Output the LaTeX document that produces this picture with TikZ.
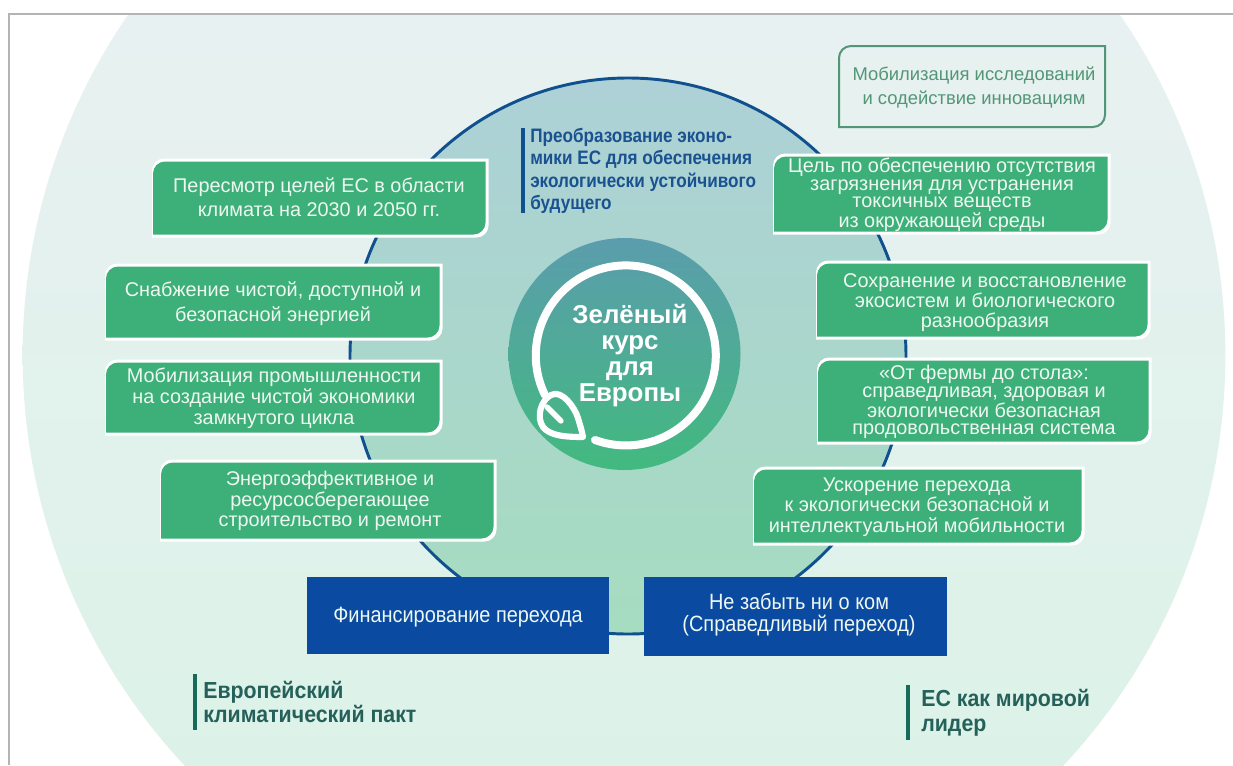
\documentclass[tikz,border=0pt]{standalone}
\usepackage{fontspec}
\setmainfont{Liberation Sans}
\newfontfamily\narrowbold[FakeStretch=0.88]{Liberation Sans Bold}
\newfontfamily\sidebold[FakeStretch=0.92]{Liberation Sans Bold}
\newfontfamily\narrowreg[FakeStretch=0.9]{Liberation Sans}
\definecolor{bigtop}{HTML}{ECF1F4}
\definecolor{bigbot}{HTML}{D9F2E6}
\definecolor{midtop}{HTML}{ADD1D7}
\definecolor{midbot}{HTML}{A6DCC0}
\definecolor{hubtop}{HTML}{5B9DAD}
\definecolor{hubbot}{HTML}{42B97F}
\definecolor{boxgreen}{HTML}{3DAF78}
\definecolor{boxtext}{HTML}{EEF8F2}
\definecolor{ringblue}{HTML}{10508F}
\definecolor{boxblue}{HTML}{0A4AA0}
\definecolor{outlinegreen}{HTML}{539677}
\definecolor{titleblue}{HTML}{1A5290}
\definecolor{pactgreen}{HTML}{25615A}
\definecolor{barteal}{HTML}{176B5B}
\definecolor{framegray}{HTML}{B4B4B4}
\tikzset{
  opanel/.style={draw=outlinegreen,line width=1.5pt},
  btext/.style={text=boxtext,align=center,inner sep=0pt},
  sidelabel/.style={align=left,anchor=west,inner sep=0pt,text=pactgreen,font=\sidebold\fontsize{17.4}{18.7}\selectfont},
  sidebar/.style={draw=barteal,line width=3pt},
}
\newcommand{\panelshape}[5]{%
  \path[#5] (#1,#4) [rounded corners=9pt] -- (#1,#2) [sharp corners] -- (#3,#2) [rounded corners=9pt] -- (#3,#4) [sharp corners] -- cycle;
}
% name, x1,y1,x2,y2, text x,y, leading, text
\newcommand{\gbox}[9]{%
  \panelshape{#2}{#3-1.5}{#4+1.5}{#5+1.5}{fill=white}%
  \panelshape{#2+1}{#3+1.5}{#4-1.5}{#5-1.5}{fill=boxgreen}%
  \node[btext,font=\fontsize{14.9}{#8}\selectfont] (#1) at (#6,#7) {#9};
}
\begin{document}
\begin{tikzpicture}[x=0.75pt,y=-0.75pt]
\useasboundingbox (0,0) rectangle (1233,765);
\fill[white] (0,0) rectangle (1233,765);
\begin{scope}
\clip (9,14) rectangle (1233,765);
\shade[top color=bigtop,bottom color=bigbot] (624,355) circle[radius=451pt];
\end{scope}
\draw[framegray,line width=0.8pt] (9,765) -- (9,14) -- (1233,14);
% middle disc
\shade[top color=midtop,bottom color=midbot] (628,356) circle[radius=208.5pt];
\draw[ringblue,line width=2.2pt] (628,356) circle[radius=208.5pt];
% hub
\shade[top color=hubtop,bottom color=hubbot] (624.5,354) circle[radius=87pt];
\draw[white,line width=6pt,line cap=round] (595,440) arc[start angle=250,end angle=566,radius=67.5pt];
\draw[white,line width=4.6pt,line join=round,line cap=round]
  (583,437) .. controls (566,437) and (550,436) .. (543,427)
  .. controls (536,417) and (541,400) .. (551,395)
  .. controls (562,389) and (575,408) .. (578,418)
  .. controls (580,425) and (582,431) .. (583,437) -- cycle;
\draw[white,line width=4pt,line cap=round] (547,407) -- (561,421);
\node[text=white,align=center,inner sep=0pt,font=\bfseries\fontsize{19.4}{19.5}\selectfont] (hub) at (630,356) {Зелёный\\курс\\для\\Европы};
% title
\draw[ringblue,line width=2.4pt] (523,128) -- (523,213);
\node[anchor=west,align=left,inner sep=0pt,text=titleblue,font=\narrowbold\fontsize{14.6}{16.8}\selectfont] (title) at (530,171) {Преобразование эконо-\\мики ЕС для обеспечения\\экологически устойчивого\\будущего};
% left panels
\gbox{a}{152}{160}{487}{236}{319}{197}{18}{Пересмотр целей ЕС в области\\климата на 2030 и 2050 гг.}
\gbox{b}{105}{265}{441}{339}{273}{304}{18.8}{Снабжение чистой, доступной и\\безопасной энергией}
\gbox{c}{105}{361}{441}{434}{274}{398.5}{15.6}{Мобилизация промышленности\\на создание чистой экономики\\замкнутого цикла}
\gbox{d}{160}{461}{495}{540}{330}{501}{15.4}{Энергоэффективное и\\ресурсосберегающее\\строительство и ремонт}
% right panels
\panelshape{839}{46}{1105}{127}{opanel}
\node[text=outlinegreen,align=center,inner sep=0pt,font=\fontsize{13.8}{18}\selectfont] (e) at (974,87) {Мобилизация исследований\\и содействие инновациям};
\gbox{f}{773}{155}{1109}{233}{942}{195}{13.3}{Цель по обеспечению отсутствия\\загрязнения для устранения\\токсичных веществ\\из окружающей среды}
\gbox{g}{816}{262}{1149}{338}{985}{303}{15}{Сохранение и восстановление\\экосистем и биологического\\разнообразия}
\gbox{h}{817}{359}{1150}{443}{984}{402}{13.3}{«От фермы до стола»:\\справедливая, здоровая и\\экологически безопасная\\продовольственная система}
\gbox{i}{753}{468}{1083}{544}{917}{507}{15.2}{Ускорение перехода\\к экологически безопасной и\\интеллектуальной мобильности}
% blue panels
\fill[boxblue] (307,577) rectangle (609,654);
\node[btext,font=\narrowreg\fontsize{16.6}{17}\selectfont] (fin) at (458,617) {Финансирование перехода};
\fill[boxblue] (644,577) rectangle (947,656);
\node[btext,font=\narrowreg\fontsize{16.6}{16.4}\selectfont] (just) at (799,615) {Не забыть ни о ком\\(Справедливый переход)};
% side labels
\draw[sidebar] (195,674) -- (195,730);
\node[sidelabel] (pact) at (203,702) {Европейский\\климатический пакт};
\draw[sidebar] (908,685) -- (908,740);
\node[sidelabel] (lead) at (921,713) {ЕС как мировой\\лидер};
\end{tikzpicture}
\end{document}
